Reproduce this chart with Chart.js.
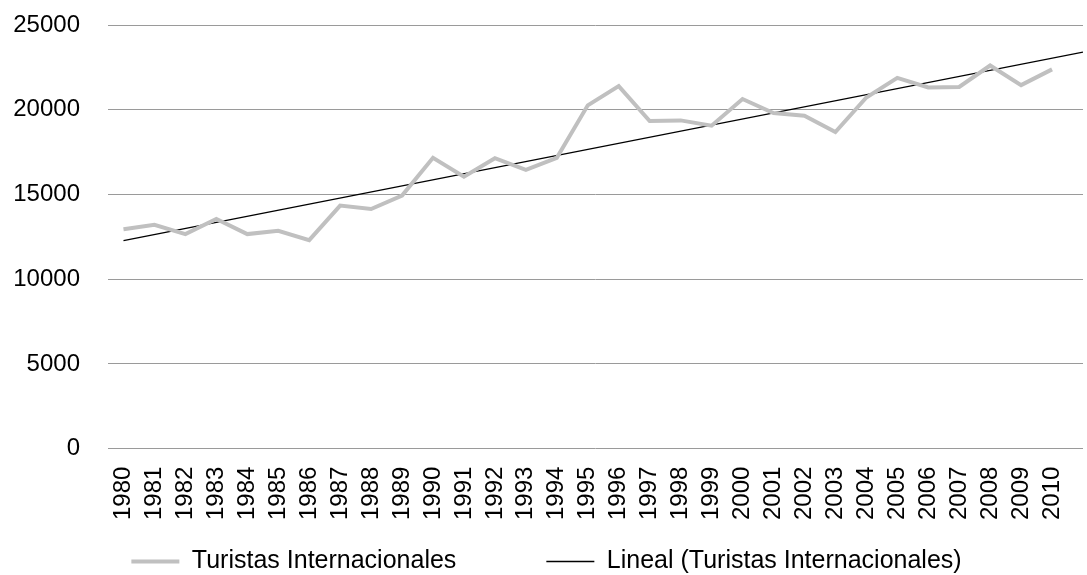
<!DOCTYPE html>
<html>
<head>
<meta charset="utf-8">
<script src="https://cdn.jsdelivr.net/npm/chart.js@4/dist/chart.umd.min.js"></script>
<style>
  html, body { margin: 0; padding: 0; background: #fff; }
  #wrap { width: 1087px; height: 575px; }
</style>
</head>
<body>
<div id="wrap"><canvas id="grafico"></canvas></div>
<script>
// años y turistas internacionales
var anios = [1980, 1981, 1982, 1983, 1984, 1985, 1986, 1987, 1988, 1989,
             1990, 1991, 1992, 1993, 1994, 1995, 1996, 1997, 1998, 1999,
             2000, 2001, 2002, 2003, 2004, 2005, 2006, 2007, 2008, 2009, 2010];
var turistas = [12950, 13210, 12660, 13550, 12660, 12855, 12300, 14340, 14140, 14930,
                17160, 16050, 17140, 16450, 17160, 20260, 21390, 19330, 19370, 19060,
                20630, 19800, 19650, 18680, 20720, 21880, 21310, 21340, 22610, 21450, 22380];
var yTicks = [0, 5000, 10000, 15000, 20000, 25000];
var finTendencia = 2011; // pronóstico hacia adelante de un periodo

// tendencia lineal (mínimos cuadrados), igual que la de Excel
var n = anios.length, sx = 0, sy = 0, sxy = 0, sxx = 0;
for (var i = 0; i < n; i++) {
    sx += anios[i]; sy += turistas[i];
    sxy += anios[i] * turistas[i]; sxx += anios[i] * anios[i];
}
var pendiente = (n * sxy - sx * sy) / (n * sxx - sx * sx);
var corte = (sy - pendiente * sx) / n;
var tendencia = [anios[0], finTendencia].map(function(a) {
    return { x: a, y: corte + pendiente * a };
});

// la separación entre items de la leyenda también agrega alto; se lo quitamos
var EXTRA_LEYENDA = 80;
var BAJAR_LEYENDA = 9;
var ajusteLeyenda = {
    id: 'ajusteLeyenda',
    beforeLayout: function(chart) {
        var lg = chart.legend;
        if (lg && !lg._ajustado) {
            var fitOrig = lg.fit;
            lg.fit = function() { fitOrig.call(this); this.height -= EXTRA_LEYENDA; };
            lg._ajustado = true;
        }
    },
    afterLayout: function(chart) {
        chart.legend.top -= EXTRA_LEYENDA - BAJAR_LEYENDA;
    }
};

Chart.defaults.font.family = '"Liberation Sans", Arial, sans-serif';
Chart.defaults.color = '#000';

var ctx = document.getElementById('grafico').getContext('2d');
var myChart = new Chart(ctx, {
    type: 'line',
    data: {
        datasets: [{
            label: 'Turistas Internacionales',
            data: anios.map(function(a, i) { return { x: a, y: turistas[i] }; }),
            borderColor: '#c0c0c0',
            borderWidth: 4,
            pointRadius: 0,
            tension: 0
        }, {
            label: 'Lineal (Turistas Internacionales)',
            data: tendencia,
            borderColor: '#000',
            borderWidth: 1.3,
            pointRadius: 0,
            tension: 0
        }]
    },
    plugins: [ajusteLeyenda],
    options: {
        responsive: true,
        maintainAspectRatio: false,
        animation: false,
        layout: { padding: { left: 10, right: 4, top: 25, bottom: 0 } },
        scales: {
            x: {
                type: 'linear',
                min: 1979.5,
                max: finTendencia,
                afterBuildTicks: function(scale) {
                    scale.ticks = anios.map(function(a) { return { value: a }; });
                },
                afterFit: function(scale) {
                    scale.paddingLeft = 0;
                    scale.paddingRight = 0;
                },
                ticks: {
                    autoSkip: false,
                    minRotation: 90,
                    maxRotation: 90,
                    padding: 10,
                    font: { size: 24 },
                    callback: function(v) { return String(v); }
                },
                grid: { display: false },
                border: { display: false }
            },
            y: {
                min: 0,
                max: 25000,
                afterBuildTicks: function(scale) {
                    scale.ticks = yTicks.map(function(v) { return { value: v }; });
                },
                afterFit: function(scale) {
                    scale.width = 98;
                    scale.paddingTop = 0;
                    scale.paddingBottom = 0;
                },
                ticks: {
                    padding: 28,
                    font: { size: 24 },
                    callback: function(v) { return String(v); }
                },
                grid: { color: '#9a9a9a', lineWidth: 1, drawTicks: false },
                border: { display: false }
            }
        },
        plugins: {
            legend: {
                position: 'bottom',
                labels: {
                    usePointStyle: true,
                    pointStyle: 'line',
                    pointStyleWidth: 48,
                    padding: 90,
                    font: { size: 25 },
                    generateLabels: function(chart) {
                        return chart.data.datasets.map(function(ds, i) {
                            return {
                                text: ds.label,
                                strokeStyle: ds.borderColor,
                                fillStyle: ds.borderColor,
                                lineWidth: ds.borderWidth,
                                pointStyle: 'line',
                                datasetIndex: i,
                                fontColor: '#000'
                            };
                        });
                    }
                }
            },
            tooltip: { enabled: false }
        }
    }
});
</script>
</body>
</html>
